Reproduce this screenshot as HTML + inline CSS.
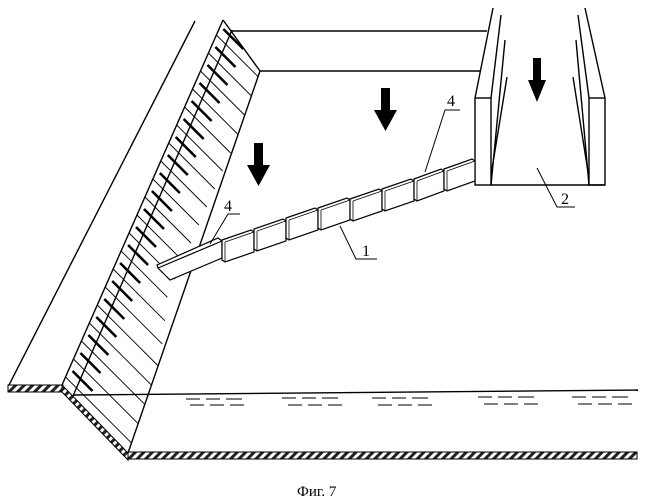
<!DOCTYPE html>
<html><head><meta charset="utf-8"><style>
html,body{margin:0;padding:0;background:#fff;}
svg{display:block}
</style></head><body>
<svg id="s" width="651" height="500" viewBox="0 0 651 500" xmlns="http://www.w3.org/2000/svg">
<defs>
<pattern id="h" width="6" height="6" patternUnits="userSpaceOnUse" patternTransform="rotate(45)">
<rect width="6" height="6" fill="#fff"/><rect width="3" height="6" fill="#222"/>
</pattern>
<clipPath id="face"><polygon points="223,20 260,71 128,453 62,385"/></clipPath>
</defs>
<g stroke="#000" fill="none" stroke-width="1.4">
<line x1="195" y1="21" x2="9" y2="385"/>
<rect x="8" y="385" width="55" height="7" fill="url(#h)" stroke-width="1"/>
<polygon points="62,385 128,453 128,460 62,392" fill="url(#h)" stroke-width="1"/>
<rect x="128" y="452" width="509" height="7" fill="url(#h)" stroke-width="1"/>
<line x1="223" y1="20" x2="62" y2="385"/>
<line x1="232" y1="30" x2="73" y2="396"/>
<line x1="223" y1="20" x2="260" y2="71"/>
<line x1="260" y1="71" x2="128" y2="453"/>
<line x1="232" y1="31" x2="487" y2="31"/>
<line x1="260" y1="71" x2="481" y2="71"/>
<line x1="73" y1="395" x2="638" y2="390"/>
</g>
<g id="ticks" stroke="#000" clip-path="url(#face)"></g>
<script>
(function(){
var g=document.getElementById('ticks'),ns='http://www.w3.org/2000/svg',i=0;
for(var y=26;y<385;y+=9){
 var x=223-(y-20)*161/365;
 var thick=(i%2==0);
 var L=thick?23:(46+ (y>250?(y-250)*0.3:0));
 var off=thick?3:0;
 var l=document.createElementNS(ns,'line');
 l.setAttribute('x1',x+off);l.setAttribute('y1',y+off);
 l.setAttribute('x2',x+L);l.setAttribute('y2',y+L);
 l.setAttribute('stroke-width',thick?2.6:0.9);
 g.appendChild(l);i++;
}
})();
</script>
<g stroke="#000" fill="#fff" stroke-width="1.4">
<line x1="475" y1="98" x2="493" y2="8"/>
<line x1="491" y1="98" x2="501" y2="15"/>
<line x1="491" y1="185" x2="505" y2="40"/>
<line x1="491" y1="175" x2="507" y2="77"/>
<line x1="605" y1="98" x2="585" y2="8"/>
<line x1="589" y1="98" x2="578" y2="15"/>
<line x1="589" y1="185" x2="576" y2="40"/>
<line x1="589" y1="178" x2="573" y2="77"/>
<rect x="475" y="98" width="16" height="87"/>
<rect x="589" y="98" width="16" height="87"/>
<line x1="491" y1="185" x2="605" y2="185"/>
</g>
<g stroke="#000" fill="#fff" stroke-width="1.2">
<polygon points="157,265 218,238 222,241 222,258 170,280 158,268"/>
<line x1="158" y1="268" x2="222" y2="241"/>
<polygon points="222,240 251,230 254,232 254,252 225,262 222,260"/>
<polygon points="254,229 283,219 286,221 286,241 257,251 254,249"/>
<polygon points="286,218 315,208 318,210 318,230 289,240 286,238"/>
<polygon points="318,208 347,198 350,200 350,220 321,230 318,228"/>
<polygon points="350,199 379,189 382,191 382,211 353,221 350,219"/>
<polygon points="382,189 411,179 414,181 414,201 385,211 382,209"/>
<polygon points="414,179 441,169 444,171 444,191 417,201 414,199"/>
<polygon points="444,169 472,159 475,161 475,181 447,191 444,189"/>
<g stroke-width="0.8">
<line x1="225" y1="242" x2="254" y2="232"/><line x1="225" y1="242" x2="225" y2="262"/>
<line x1="257" y1="231" x2="286" y2="221"/><line x1="257" y1="231" x2="257" y2="251"/>
<line x1="289" y1="220" x2="318" y2="210"/><line x1="289" y1="220" x2="289" y2="240"/>
<line x1="321" y1="210" x2="350" y2="200"/><line x1="321" y1="210" x2="321" y2="230"/>
<line x1="353" y1="201" x2="382" y2="191"/><line x1="353" y1="201" x2="353" y2="221"/>
<line x1="385" y1="191" x2="414" y2="181"/><line x1="385" y1="191" x2="385" y2="211"/>
<line x1="417" y1="181" x2="444" y2="171"/><line x1="417" y1="181" x2="417" y2="201"/>
<line x1="447" y1="171" x2="475" y2="161"/><line x1="447" y1="171" x2="447" y2="191"/>
</g>
</g>
<g fill="#000">
<polygon points="254,143 263,143 263,165 270,165 258.5,186 247,165 254,165"/>
<polygon points="381,88 390,88 390,110 397,110 385.5,131 374,110 381,110"/>
<polygon points="533,58 541,58 541,80 546,80 537,102 528,80 533,80"/>
</g>
<g stroke="#333" stroke-width="1.3">
<path d="M186 399h14M206 399h14M226 399h16M190 405h14M210 405h14M230 405h14"/>
<path d="M282 398h14M302 398h14M322 398h16M288 405h14M308 405h14M328 405h14"/>
<path d="M372 398h14M392 398h14M412 398h16M378 405h14M398 405h14M418 405h14"/>
<path d="M478 397h14M498 397h14M518 397h16M484 404h14M504 404h14M524 404h14"/>
<path d="M572 397h14M592 397h14M612 397h16M578 404h14M598 404h14M618 404h14"/>
</g>
<g stroke="#000" stroke-width="1" fill="none">
<path d="M210 244 L228 214 L240 214"/>
<path d="M425 172 L445 110 L460 110"/>
<path d="M340 226 L356 259 L377 259"/>
<path d="M537 168 L557 207 L575 207"/>
</g>
<g font-family="Liberation Serif, serif" font-size="16" fill="#000">
<text x="224" y="211">4</text>
<text x="447" y="106">4</text>
<text x="362" y="256">1</text>
<text x="561" y="204">2</text>
<text x="297" y="496" font-size="15">Фиг. 7</text>
</g>
</svg>
</body></html>
